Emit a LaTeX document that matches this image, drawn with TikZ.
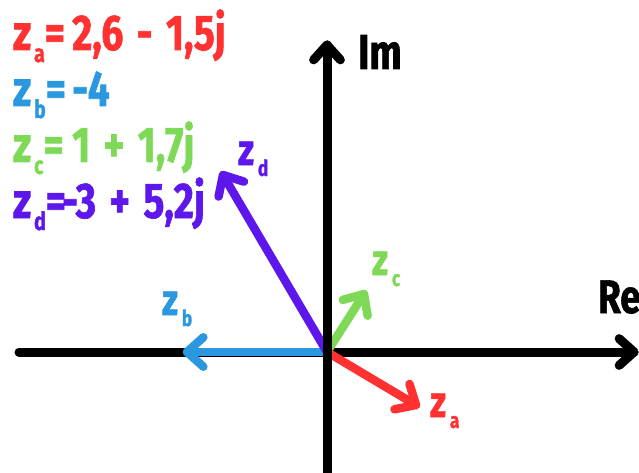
\documentclass[tikz,border=0pt]{standalone}
\usepackage{fontspec}
\setmainfont{Fira Sans}[FakeStretch=0.78, WordSpace=1.45, BoldFeatures={FakeBold=1.2}]
\usetikzlibrary{calc}
\definecolor{zred}{HTML}{FF3131}
\definecolor{zblue}{HTML}{2A98DE}
\definecolor{zgreen}{HTML}{7ED957}
\definecolor{zpurple}{HTML}{5E17EB}
\newcommand\legz[1]{z\kern3pt\raisebox{-12pt}{\fontsize{25}{25}\selectfont #1}}
\newcommand\vecz[1]{z\kern4pt\raisebox{-11pt}{\fontsize{22}{22}\selectfont #1}}
\begin{document}
\begin{tikzpicture}[x=1pt,y=-1pt,
  lbl/.style={inner sep=0pt, anchor=base west, font=\bfseries\fontsize{50}{50}\selectfont},
  vlbl/.style={inner sep=0pt, anchor=base west, font=\bfseries\fontsize{44}{44}\selectfont},
  axis/.style={line width=9pt, line cap=round, line join=round, black},
  vec/.style={line width=8.5pt, line cap=round, line join=round}]
\useasboundingbox (0,0) rectangle (639,473);
\clip (0,0) rectangle (639,473);
% coordinates
\coordinate (O) at (327,352);
\coordinate (xs) at (19,352);
\coordinate (xe) at (634,352);
\coordinate (ys) at (327,480);
\coordinate (ye) at (327,45);
\coordinate (ta) at (416,405);
\coordinate (tb) at (187,352);
\coordinate (tc) at (364,294);
\coordinate (td) at (223,175);
% horizontal axis
\draw[axis] (xs) -- (xe);
\draw[axis] ($(xe)!20pt!42:(xs)$) -- (xe) -- ($(xe)!20pt!-42:(xs)$);
% vectors
\draw[vec, zblue] (O) -- (tb);
\draw[vec, zblue] ($(tb)!22pt!42:(O)$) -- (tb) -- ($(tb)!22pt!-42:(O)$);
\draw[vec, zpurple] (O) -- (td);
\draw[vec, zpurple] ($(td)!22pt!42:(O)$) -- (td) -- ($(td)!22pt!-42:(O)$);
\draw[vec, zgreen] (O) -- (tc);
\draw[vec, zgreen] ($(tc)!22pt!42:(O)$) -- (tc) -- ($(tc)!22pt!-42:(O)$);
\draw[vec, zred] (O) -- (ta);
\draw[vec, zred] ($(ta)!22pt!42:(O)$) -- (ta) -- ($(ta)!22pt!-42:(O)$);
% vertical axis
\draw[axis] (ys) -- (ye);
\draw[axis] ($(ye)!20pt!42:(ys)$) -- (ye) -- ($(ye)!20pt!-42:(ys)$);
% axis labels
\node[lbl, font=\bfseries\fontsize{49}{49}\selectfont] (im) at (358,69) {Im};
\node[lbl, font=\bfseries\fontsize{47}{47}\selectfont] (re) at (598,313) {Re};
% vector labels
\node[vlbl, zred] (la) at (430,417) {\vecz{a}};
\node[vlbl, zblue] (lb) at (162,315) {\vecz{b}};
\node[vlbl, zgreen] (lc) at (372,275) {\vecz{c}};
\node[vlbl, zpurple] (ld) at (238,165) {\vecz{d}};
% legend
\node[lbl, zred] (ka) at (13,50) {\legz{a}=};
\node[lbl, zred] (va) at (72,50) {2,6 - 1,5j};
\node[lbl, zblue] (kb) at (13,106) {\legz{b}=};
\node[lbl, zblue] (vb) at (72,106) {-4};
\node[lbl, zgreen] (kc) at (13,162) {\legz{c}=};
\node[lbl, zgreen] (vc) at (72,162) {1 + 1,7j};
\node[lbl, zpurple] (kd) at (13,218) {\legz{d}=};
\node[lbl, zpurple] (vd) at (62,218) {-3 + 5,2j};
\end{tikzpicture}
\end{document}
